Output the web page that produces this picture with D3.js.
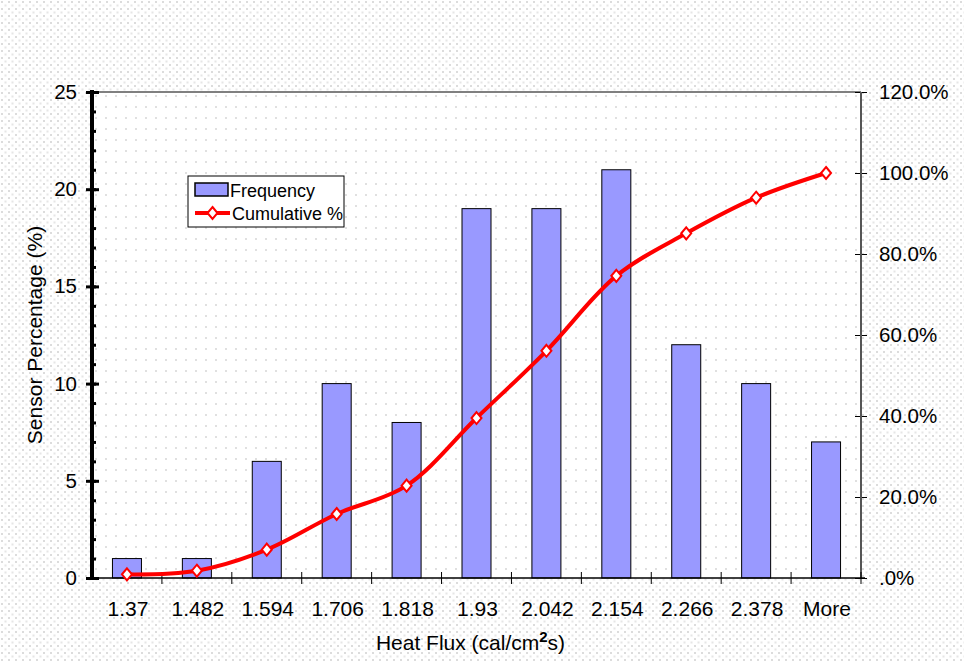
<!doctype html>
<html lang="en">
<head>
<meta charset="utf-8">
<title>Heat Flux histogram</title>
<script src="https://cdn.jsdelivr.net/npm/d3@7"></script>
<style>
	body { margin: 0; background: #fff; }
	svg text { font-family: "Liberation Sans", Arial, sans-serif; fill: #000; }
	.axis path.domain { stroke: none; }
</style>
</head>
<body>
<div id="viz"></div>
<script>

// bins and values
var categories = ["1.37", "1.482", "1.594", "1.706", "1.818", "1.93", "2.042", "2.154", "2.266", "2.378", "More"];
var frequency = [1, 1, 6, 10, 8, 19, 19, 21, 12, 10, 7];
var cumulative = [0.9, 1.8, 7.0, 15.8, 22.8, 39.5, 56.1, 74.6, 85.1, 93.9, 100];
var leftTicks = [0, 5, 10, 15, 20, 25];
var rightTicks = [0, 20, 40, 60, 80, 100, 120];

(function(d3) {

	var w = 964, h = 662;
	var margin = {top: 92, right: 103, bottom: 84, left: 92};
	var width = w - margin.left - margin.right,
		height = h - margin.top - margin.bottom;

	var svg = d3.select("#viz").append("svg")
		.attr("width", w)
		.attr("height", h);

	// dotted fills like the spreadsheet chart
	var defs = svg.append("defs");
	var outer = defs.append("pattern").attr("id", "dotsOuter")
		.attr("patternUnits", "userSpaceOnUse").attr("width", 7).attr("height", 7);
	outer.append("rect").attr("width", 7).attr("height", 7).attr("fill", "#fff");
	outer.append("rect").attr("x", 1).attr("y", 1).attr("width", 2).attr("height", 2).attr("fill", "#dcdcdc");
	outer.append("rect").attr("x", 4.5).attr("y", 4.5).attr("width", 2).attr("height", 2).attr("fill", "#e6e6e6");

	var inner = defs.append("pattern").attr("id", "dotsInner")
		.attr("patternUnits", "userSpaceOnUse").attr("width", 10).attr("height", 11);
	inner.append("rect").attr("width", 10).attr("height", 11).attr("fill", "#fff");
	inner.append("rect").attr("x", 3).attr("y", 3).attr("width", 2).attr("height", 2).attr("fill", "#e0e0e0");

	svg.append("rect").attr("width", w).attr("height", h).attr("fill", "url(#dotsOuter)");

	var g = svg.append("g")
		.attr("transform", "translate(" + margin.left + "," + margin.top + ")");

	g.append("rect").attr("width", width).attr("height", height).attr("fill", "url(#dotsInner)");

	var xb = d3.scaleBand().domain(categories).range([0, width]);
	var yL = d3.scaleLinear().domain([0, 25]).range([height, 0]);
	var yR = d3.scaleLinear().domain([0, 120]).range([height, 0]);

	// top border
	g.append("line").attr("x1", 0).attr("x2", width).attr("y1", 0).attr("y2", 0)
		.attr("stroke", "#808080").attr("stroke-width", 2);

	// bars
	g.selectAll("rect.bar")
		.data(frequency)
		.enter().append("rect")
		.attr("class", "bar")
		.attr("x", (d, i) => xb(categories[i]) + xb.bandwidth() / 2 - 14.5)
		.attr("width", 29)
		.attr("y", d => yL(d))
		.attr("height", d => height - yL(d))
		.attr("fill", "#9999ff")
		.attr("stroke", "#000")
		.attr("stroke-width", 1);

	// right axis
	var rightAxis = g.append("g").attr("class", "axis")
		.attr("transform", "translate(" + width + ",0)")
		.call(d3.axisRight(yR).tickValues(rightTicks).tickSize(6).tickPadding(12)
			.tickFormat(d => d === 0 ? ".0%" : d.toFixed(1) + "%"));
	rightAxis.append("line").attr("y1", 0).attr("y2", height).attr("stroke", "#555").attr("stroke-width", 2);
	rightAxis.selectAll(".tick line").attr("x1", -6).attr("x2", 6).attr("stroke", "#000");
	rightAxis.selectAll("text").style("font-size", "20.5px");

	// bottom axis
	var bottomAxis = g.append("g").attr("class", "axis")
		.attr("transform", "translate(0," + height + ")");
	bottomAxis.append("line").attr("x1", 0).attr("x2", width + 4).attr("stroke", "#000").attr("stroke-width", 1.5);
	bottomAxis.selectAll("line.tk")
		.data(categories)
		.enter().append("line")
		.attr("class", "tk")
		.attr("x1", d => xb(d) + xb.bandwidth()).attr("x2", d => xb(d) + xb.bandwidth())
		.attr("y1", -6).attr("y2", 6)
		.attr("stroke", "#000");
	bottomAxis.selectAll("text")
		.data(categories)
		.enter().append("text")
		.attr("x", d => xb(d) + xb.bandwidth() / 2 + 1)
		.attr("y", 38)
		.attr("text-anchor", "middle")
		.style("font-size", "21px")
		.text(d => d);

	// left axis, thick with minor ticks
	var minorAxis = g.append("g").attr("class", "axis")
		.call(d3.axisLeft(yL).tickValues(d3.range(0, 26)).tickSize(-4).tickFormat(""));
	minorAxis.selectAll(".tick line").attr("stroke", "#000").attr("stroke-width", 3);

	var leftAxis = g.append("g").attr("class", "axis")
		.call(d3.axisLeft(yL).tickValues(leftTicks).tickSize(6).tickPadding(9));
	leftAxis.selectAll(".tick line").attr("x1", -6).attr("x2", 7).attr("stroke", "#000").attr("stroke-width", 3);
	leftAxis.selectAll("text").style("font-size", "20.5px");
	leftAxis.append("line").attr("y1", -2).attr("y2", height + 2).attr("stroke", "#000").attr("stroke-width", 4);

	// cumulative line
	var line = d3.line()
		.x((d, i) => xb(categories[i]) + xb.bandwidth() / 2)
		.y(d => yR(d))
		.curve(d3.curveCatmullRom);

	g.append("path")
		.datum(cumulative)
		.attr("d", line)
		.attr("fill", "none")
		.attr("stroke", "#ff0000")
		.attr("stroke-width", 4);

	var diamond = "M0,-6L5,0L0,6L-5,0Z";
	g.selectAll("path.marker")
		.data(cumulative)
		.enter().append("path")
		.attr("class", "marker")
		.attr("transform", (d, i) => "translate(" + (xb(categories[i]) + xb.bandwidth() / 2) + "," + yR(d) + ")")
		.attr("d", diamond)
		.attr("fill", "#fff")
		.attr("stroke", "#ff0000")
		.attr("stroke-width", 2);

	// axis titles
	svg.append("text")
		.attr("transform", "translate(42," + (margin.top + height / 2) + ") rotate(-90)")
		.attr("text-anchor", "middle")
		.style("font-size", "21px")
		.text("Sensor Percentage (%)");

	var xt = svg.append("text")
		.attr("x", margin.left + width / 2 - 6)
		.attr("y", 650)
		.attr("text-anchor", "middle")
		.style("font-size", "21px");
	xt.append("tspan").text("Heat Flux (cal/cm");
	xt.append("tspan").attr("dy", -8).style("font-size", "15px").style("font-weight", "bold").text("2");
	xt.append("tspan").attr("dy", 8).text("s)");

	// legend
	var legend = svg.append("g").attr("transform", "translate(188,176)");
	legend.append("rect").attr("width", 156).attr("height", 51)
		.attr("fill", "#fff").attr("stroke", "#000").attr("stroke-width", 1);
	legend.append("rect").attr("x", 7).attr("y", 7).attr("width", 33).attr("height", 13)
		.attr("fill", "#9999ff").attr("stroke", "#000").attr("stroke-width", 1.5);
	legend.append("text").attr("x", 42).attr("y", 21).style("font-size", "18px").text("Frequency");
	legend.append("line").attr("x1", 7).attr("x2", 42).attr("y1", 37).attr("y2", 37)
		.attr("stroke", "#ff0000").attr("stroke-width", 4);
	legend.append("path").attr("transform", "translate(24.5,37)").attr("d", diamond)
		.attr("fill", "#fff").attr("stroke", "#ff0000").attr("stroke-width", 2);
	legend.append("text").attr("x", 44).attr("y", 44).style("font-size", "18px").text("Cumulative %");

})(d3);

</script>
</body>
</html>
